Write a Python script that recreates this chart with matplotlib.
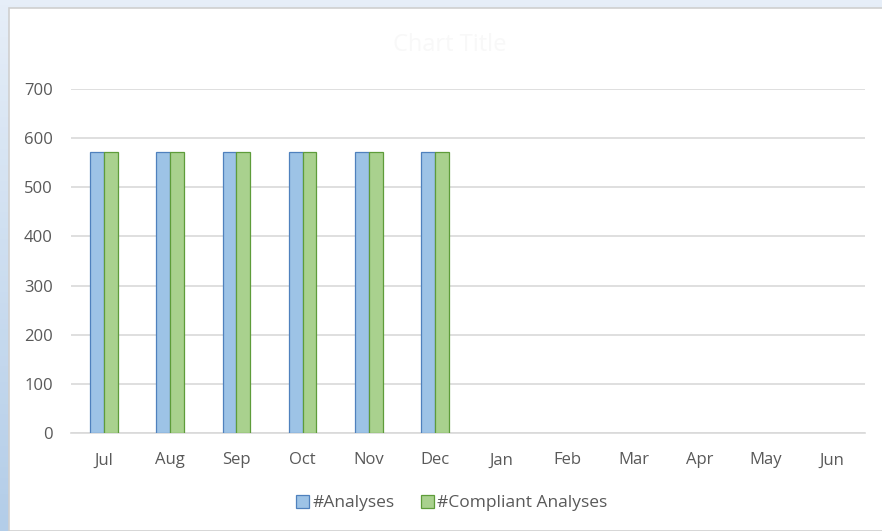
import matplotlib.pyplot as plt
import matplotlib.patches as mpatches
from matplotlib.colors import LinearSegmentedColormap
import numpy as np

months = ["Jul", "Aug", "Sep", "Oct", "Nov", "Dec", "Jan", "Feb", "Mar", "Apr", "May", "Jun"]
# Jan-Jun are empty cells in the sheet
analyses = [572, 572, 572, 572, 572, 572, None, None, None, None, None, None]
compliant = [572, 572, 572, 572, 572, 572, None, None, None, None, None, None]

plt.rcParams["font.family"] = ["Open Sans", "DejaVu Sans"]

fig = plt.figure(figsize=(8.82, 5.31), dpi=100)

# light blue window frame behind the chart, getting deeper toward the bottom
bg = fig.add_axes([0, 0, 1, 1], zorder=-20)
bg.axis("off")
cmap = LinearSegmentedColormap.from_list("frame", ["#e6eef8", "#b3cde8"])
bg.imshow(np.linspace(0, 1, 100).reshape(-1, 1), aspect="auto", cmap=cmap,
          extent=[0, 1, 0, 1], origin="upper")

frame = mpatches.Rectangle((9 / 882, 0), 1, 1 - 8 / 531, transform=fig.transFigure,
                           facecolor="white", edgecolor="#cfcfcf", lw=1.2, zorder=-10)
fig.patches.append(frame)

ax = fig.add_axes([71 / 882, 1 - 433 / 531, 794 / 882, 344 / 531])
ax.set_facecolor("none")

x = np.arange(len(months))
a = np.array(analyses, dtype=float)
c = np.array(compliant, dtype=float)
w = 0.21
ax.bar(x - w / 2, a, w, color="#9dc3e6", edgecolor="#4f81bd", lw=0.9,
       label="#Analyses", zorder=3)
ax.bar(x + w / 2, c, w, color="#a9d18e", edgecolor="#5e9c3a", lw=0.9,
       label="#Compliant Analyses", zorder=3)

ax.set_xlim(-0.5, len(months) - 0.5)
ax.set_ylim(0, 700)
ax.set_yticks(range(0, 701, 100))
ax.set_xticks(x)
ax.set_xticklabels(months)
ax.grid(axis="y", color="#d9d9d9", lw=1.2, zorder=0)
for s in ["top", "right", "left"]:
    ax.spines[s].set_visible(False)
ax.spines["bottom"].set_color("#d9d9d9")
ax.spines["bottom"].set_linewidth(1.2)
ax.tick_params(axis="both", length=0, colors="#595959", labelsize=12)
ax.tick_params(axis="y", pad=13)
ax.tick_params(axis="x", pad=14)

fig.text(0.51, 1 - 45 / 531, "Chart Title", ha="center", va="center",
         fontsize=17, color="#f8f8f8")

fig.legend(loc="center", bbox_to_anchor=(0.512, 1 - 503 / 531), ncol=2,
           frameon=False, fontsize=12.5, labelcolor="#595959",
           handlelength=0.75, handleheight=0.75, handletextpad=0.2, columnspacing=1.5)

fig.savefig("out.png", dpi=100)
